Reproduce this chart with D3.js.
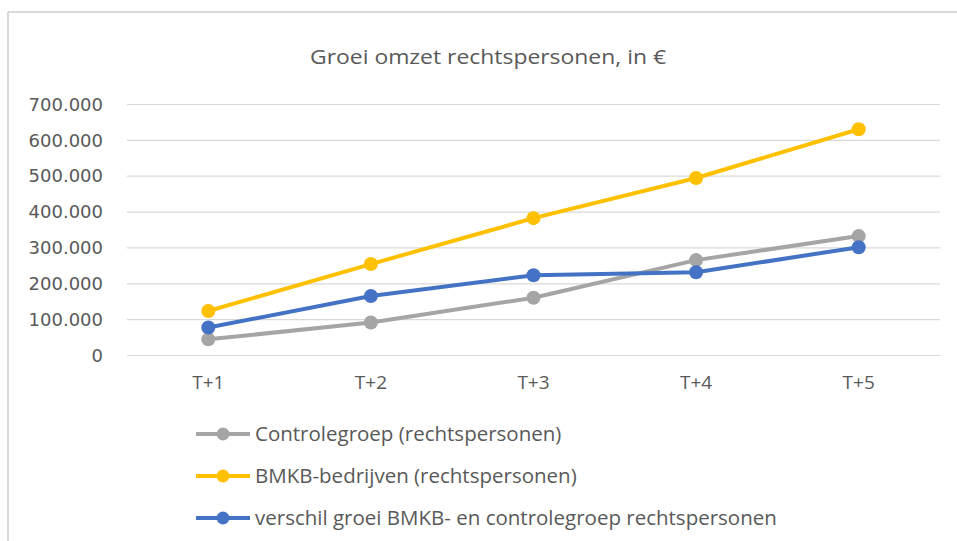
<!DOCTYPE html>
<html>
<head>
<meta charset="utf-8">
<script src="https://cdn.jsdelivr.net/npm/d3@7"></script>
<style>
    body { margin: 0; background: #fff; }
    svg { display: block; }
</style>
</head>
<body>
<div id="chart"></div>
<script>
const categories = ["T+1", "T+2", "T+3", "T+4", "T+5"];
const seriesNames = [
    "Controlegroep (rechtspersonen)",
    "BMKB-bedrijven (rechtspersonen)",
    "verschil groei BMKB- en controlegroep rechtspersonen"
];
const controlegroep = [45000, 92000, 161000, 266000, 333000];
const bmkb = [124000, 255000, 383000, 495000, 631000];
const verschil = [78000, 166000, 224000, 232000, 302000];
const yTicks = [0, 100000, 200000, 300000, 400000, 500000, 600000, 700000];
const colors = ["#a5a5a5", "#ffc000", "#4472c4"];

const width = 957, height = 541;
const plot = { left: 127, right: 940, top: 104.5, bottom: 355.5 };

const svg = d3.select("#chart")
    .append("svg")
    .attr("width", width)
    .attr("height", height);

// chart border (only top and left visible in the crop)
svg.append("line")
    .attr("x1", 8).attr("x2", width).attr("y1", 12).attr("y2", 12)
    .attr("stroke", "#d9d9d9").attr("stroke-width", 2);
svg.append("line")
    .attr("x1", 8).attr("x2", 8).attr("y1", 12).attr("y2", height)
    .attr("stroke", "#d9d9d9").attr("stroke-width", 2);

svg.append("text")
    .attr("x", 488)
    .attr("y", 64)
    .attr("text-anchor", "middle")
    .attr("textLength", 356)
    .attr("lengthAdjust", "spacingAndGlyphs")
    .style("font-family", "'Open Sans', sans-serif")
    .style("font-size", "20px")
    .style("fill", "#595959")
    .text("Groei omzet rechtspersonen, in €");

const x = d3.scaleBand()
    .domain(categories)
    .range([plot.left, plot.right]);

const y = d3.scaleLinear()
    .domain([0, 700000])
    .range([plot.bottom, plot.top]);

const fmt = d => d3.format(",")(d).replace(/,/g, ".");

// gridlines
svg.append("g")
    .selectAll("line")
    .data(yTicks)
    .enter()
    .append("line")
    .attr("x1", plot.left)
    .attr("x2", plot.right)
    .attr("y1", d => y(d))
    .attr("y2", d => y(d))
    .attr("stroke", "#d9d9d9")
    .attr("stroke-width", 1.2);

const yAxis = svg.append("g")
    .attr("transform", `translate(${plot.left - 24},0)`)
    .call(d3.axisLeft(y).tickValues(yTicks).tickFormat(fmt).tickSize(0).tickPadding(0));
yAxis.select(".domain").remove();
yAxis.selectAll("text")
    .style("font-family", "'DejaVu Sans', sans-serif")
    .style("font-size", "18px")
    .style("fill", "#595959");

const xAxis = svg.append("g")
    .attr("transform", `translate(0,${plot.bottom})`)
    .call(d3.axisBottom(x).tickSize(0).tickPadding(20));
xAxis.select(".domain").remove();
xAxis.selectAll("text")
    .style("font-family", "'Open Sans', sans-serif")
    .style("font-size", "19px")
    .style("fill", "#595959");

const allSeries = [controlegroep, bmkb, verschil];
const line = d3.line()
    .x((d, i) => x(categories[i]) + x.bandwidth() / 2)
    .y(d => y(d));

allSeries.forEach((values, s) => {
    svg.append("path")
        .datum(values)
        .attr("fill", "none")
        .attr("stroke", colors[s])
        .attr("stroke-width", 4)
        .attr("stroke-linejoin", "round")
        .attr("d", line);

    svg.append("g")
        .selectAll("circle")
        .data(values)
        .enter()
        .append("circle")
        .attr("cx", (d, i) => x(categories[i]) + x.bandwidth() / 2)
        .attr("cy", d => y(d))
        .attr("r", 7)
        .attr("fill", colors[s]);
});

// legend
const legend = svg.append("g")
    .selectAll("g")
    .data(seriesNames)
    .enter()
    .append("g")
    .attr("transform", (d, i) => `translate(196,${434 + i * 42})`);

legend.append("line")
    .attr("x1", 0).attr("x2", 54)
    .attr("stroke", (d, i) => colors[i])
    .attr("stroke-width", 4);
legend.append("circle")
    .attr("cx", 27)
    .attr("r", 6.5)
    .attr("fill", (d, i) => colors[i]);
legend.append("text")
    .attr("x", 59)
    .attr("dy", "0.35em")
    .style("font-family", "'Open Sans', sans-serif")
    .style("font-size", "20.5px")
    .style("fill", "#595959")
    .text(d => d);
</script>
</body>
</html>
